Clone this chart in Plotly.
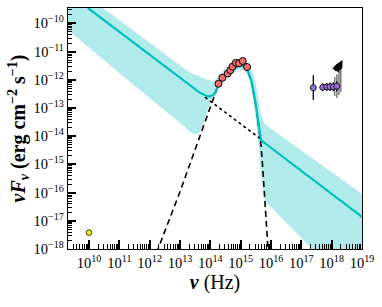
import numpy as np
import plotly.graph_objects as go

# ---- data (log10 values) ----
# total model (solid)
model_lognu = [9.967, 13.330, 13.660, 13.858, 13.989, 14.121, 14.220, 14.319, 14.428, 14.649,
               14.870, 15.035, 15.143, 15.252, 15.364, 15.440, 15.506, 15.572, 15.622, 15.671,
               15.747, 19.0]
model_logf = [-9.454, -12.213, -12.461, -12.567, -12.592, -12.521, -12.291, -12.113, -11.947, -11.713,
              -11.528, -11.475, -11.535, -11.723, -12.078, -12.468, -12.929, -13.426, -13.851, -14.135,
              -14.206, -16.865]

# uncertainty band
band_up_lognu = [9.308, 13.000, 13.330, 13.881, 14.088, 14.220, 14.319, 14.451, 14.649, 14.847,
                 15.012, 15.176, 15.308, 15.440, 15.539, 15.605, 15.671, 15.770, 15.968, 19.0]
band_up_logf = [-8.532, -11.475, -11.748, -11.982, -12.060, -11.936, -11.794, -11.635, -11.475, -11.351,
                -11.316, -11.369, -11.546, -11.865, -12.362, -12.858, -13.248, -13.532, -13.709, -16.050]
band_lo_lognu = [9.308, 11.352, 13.165, 13.330, 13.495, 13.627, 13.759, 13.891, 14.022, 14.154,
                 14.286, 14.451, 14.649, 14.847, 15.012, 15.143, 15.242, 15.341, 15.407, 15.473,
                 15.539, 15.605, 15.671, 15.770, 15.869, 17.287, 19.0]
band_lo_logf = [-10.234, -12.078, -13.674, -13.851, -13.940, -13.887, -13.603, -13.142, -12.716, -12.433,
                -12.220, -12.007, -11.830, -11.670, -11.617, -11.670, -11.865, -12.220, -12.645, -13.142,
                -13.709, -14.489, -15.376, -16.191, -16.369, -17.918, -19.738]

# thermal component (dashed)
disk_lognu = [12.0, 12.275, 13.000, 13.495, 13.769, 13.989, 14.154, 14.263, 14.428, 14.649,
              14.870, 15.035, 15.143, 15.252, 15.364, 15.440, 15.506, 15.572, 15.622, 15.671,
              15.721, 15.770, 15.819, 15.869, 15.902, 15.93]
disk_logf = [-18.80, -18.0, -15.968, -14.489, -13.663, -12.954, -12.479, -12.184, -11.954, -11.723,
             -11.539, -11.486, -11.546, -11.734, -12.089, -12.486, -12.947, -13.461, -13.887, -14.312,
             -15.021, -15.730, -16.440, -17.255, -18.0, -18.8]

# power law continuation (dotted)
pl_lognu = [13.825, 15.671]
pl_logf = [-12.617, -14.106]

# radio point
radio_lognu = [10.0]
radio_logf = [-17.42]

# optical/UV points
opt_lognu = [14.27, 14.395, 14.573, 14.659, 14.731, 14.837, 14.946, 15.068, 15.21]
opt_logf = [-12.14, -11.93, -11.78, -11.66, -11.535, -11.40, -11.415, -11.333, -11.546]

# X-ray points
xr_lognu = [17.395, 17.705, 17.837, 17.946, 18.055, 18.167]
xr_logf = [-12.28, -12.266, -12.255, -12.245, -12.245, -12.23]
xr_err = [0.44, 0.14, 0.14, 0.15, 0.16, 0.18]

# hard X-ray bins with large errors / arrows
hx_lognu = [18.10, 18.17, 18.24, 18.30]
hx_lo = [-12.57, -12.64, -12.54, -12.43]
hx_hi = [-11.90, -11.80, -11.68, -11.60]
arrow_lognu = [18.26, 18.31, 18.36]
arrow_logf = [-11.42, -11.36, -11.30]

xticks = list(range(10, 20))
yticks = list(range(-18, -9))

def p(a):
    return [None if v is None else 10 ** v for v in a]

band_c = "rgb(176,234,234)"
line_c = "rgb(0,190,190)"

fig = go.Figure()

# band
fig.add_trace(go.Scatter(
    x=p(band_up_lognu + band_lo_lognu[::-1]),
    y=p(band_up_logf + band_lo_logf[::-1]),
    fill="toself", fillcolor=band_c, line=dict(width=0), mode="lines",
    hoverinfo="skip", showlegend=False))

fig.add_trace(go.Scatter(x=p(pl_lognu), y=p(pl_logf), mode="lines",
                         line=dict(color="black", width=1.6, dash="dot"), showlegend=False))
fig.add_trace(go.Scatter(x=p(disk_lognu), y=p(disk_logf), mode="lines",
                         line=dict(color="black", width=1.6, dash="6px,4px"), showlegend=False))
fig.add_trace(go.Scatter(x=p(model_lognu), y=p(model_logf), mode="lines",
                         line=dict(color=line_c, width=2.2), showlegend=False))

# hard x-ray bars
bx, by = [], []
for n, lo, hi in zip(hx_lognu, hx_lo, hx_hi):
    bx += [10 ** n, 10 ** n, None]
    by += [10 ** lo, 10 ** hi, None]
fig.add_trace(go.Scatter(x=bx, y=by, mode="lines", line=dict(color="gray", width=1.6),
                         showlegend=False))

# x-ray points
fig.add_trace(go.Scatter(
    x=p(xr_lognu), y=p(xr_logf), mode="markers",
    marker=dict(size=6, color="mediumpurple", line=dict(color="black", width=0.8)),
    error_y=dict(type="data", symmetric=False,
                 array=[10 ** (v + e) - 10 ** v for v, e in zip(xr_logf, xr_err)],
                 arrayminus=[10 ** v - 10 ** (v - e) for v, e in zip(xr_logf, xr_err)],
                 color="black", thickness=1.3, width=0),
    showlegend=False))

fig.add_trace(go.Scatter(
    x=p(opt_lognu), y=p(opt_logf), mode="markers",
    marker=dict(size=7, color="rgb(240,110,110)", line=dict(color="black", width=1)),
    showlegend=False))

fig.add_trace(go.Scatter(
    x=p(radio_lognu), y=p(radio_logf), mode="markers",
    marker=dict(size=5.5, color="yellow", line=dict(color="black", width=0.8)),
    showlegend=False))

# upper-limit arrows (annotations on log axes take log10 positions)
for n, f in zip(arrow_lognu, arrow_logf):
    fig.add_annotation(x=n, y=f, xref="x", yref="y",
                       ax=-5, ay=9, showarrow=True, arrowhead=2, arrowsize=0.9,
                       arrowwidth=1.8, arrowcolor="black", text="")

minor_x = [10 ** d * m for d in range(9, 19) for m in range(2, 10)]
minor_y = [10 ** d * m for d in range(-19, -9) for m in range(2, 10)]

font = "Liberation Serif"
fig.update_xaxes(type="log", range=[9.3076, 19.0],
                 tickvals=[10 ** t for t in xticks],
                 ticktext=[f"10<sup>{t}</sup>" for t in xticks],
                 ticks="inside", ticklen=9, tickwidth=1.6, tickcolor="black",
                 minor=dict(tickvals=minor_x, ticks="inside", ticklen=5, tickwidth=1, tickcolor="black"),
                 showline=True, linecolor="black", linewidth=1.4, mirror=True,
                 showgrid=False, zeroline=False,
                 tickfont=dict(family=font, size=14.5, color="black"),
                 title=dict(text="<b><i>ν</i></b> (Hz)", font=dict(family=font, size=20, color="black"),
                            standoff=4))
fig.update_yaxes(type="log", range=[-18.0, -9.454],
                 tickvals=[10 ** t for t in yticks],
                 ticktext=[f"10<sup>−{-t}</sup>" for t in yticks],
                 ticks="inside", ticklen=8, tickwidth=2, tickcolor="black",
                 minor=dict(tickvals=minor_y, ticks="inside", ticklen=4, tickwidth=1, tickcolor="black"),
                 showline=True, linecolor="black", linewidth=1.4, mirror=True,
                 showgrid=False, zeroline=False,
                 tickfont=dict(family=font, size=14.5, color="black"),
                 title=dict(text="<b><i>νF</i><sub><i>ν</i></sub> (erg cm<sup>−2</sup> s<sup>−1</sup>)</b>",
                            font=dict(family=font, size=20, color="black"), standoff=2))

fig.update_layout(width=382, height=307, margin=dict(l=68, r=20, t=8, b=58, autoexpand=False),
                  plot_bgcolor="white", paper_bgcolor="white", showlegend=False)

fig.write_html("out.html", config={"displayModeBar": False},
               post_script="document.body.style.margin='0px';")
